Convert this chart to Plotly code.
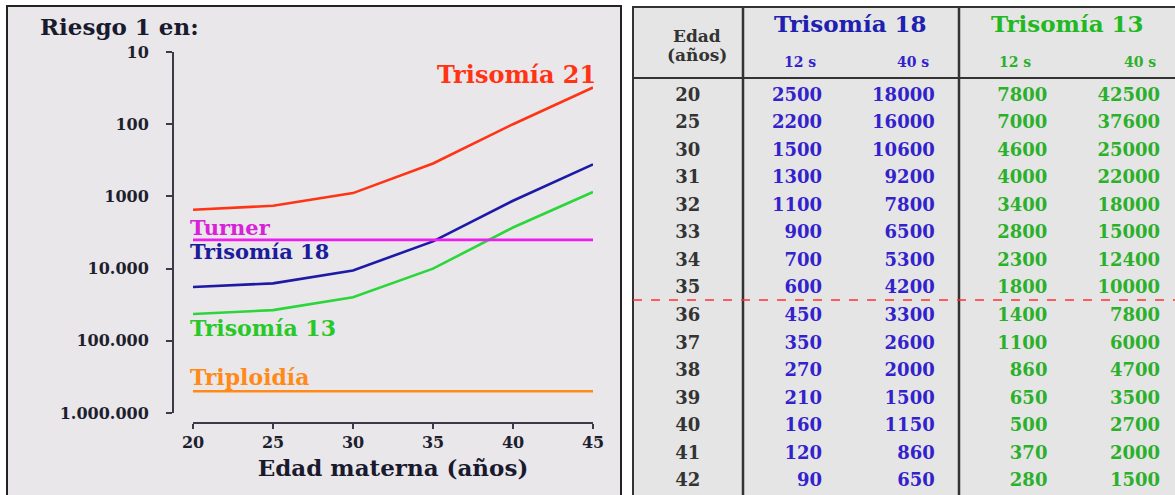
import plotly.graph_objects as go

W, H = 1175, 495

# --- gráfico: riesgo "1 en N" por edad materna ---
EDAD_GRAF = [20, 25, 30, 35, 40, 45]
T21 = [1530, 1350, 900, 350, 100, 31]
T18 = [18000, 16000, 10600, 4200, 1150, 360]
T13 = [42500, 37600, 25000, 10000, 2700, 870]
EDAD_RANGO = [20, 45]
TURNER = [4000, 4000]
TRIPLOIDIA = [500000, 500000]

Y_TICKS = [10, 100, 1000, 10000, 100000, 1000000]
Y_TICK_TEXT = ["10", "100", "1000", "10.000", "100.000", "1.000.000"]
X_TICKS = [20, 25, 30, 35, 40, 45]

# --- tabla ---
EDAD_TABLA = [20, 25, 30, 31, 32, 33, 34, 35, 36, 37, 38, 39, 40, 41, 42]
T18_12S = [2500, 2200, 1500, 1300, 1100, 900, 700, 600, 450, 350, 270, 210, 160, 120, 90]
T18_40S = [18000, 16000, 10600, 9200, 7800, 6500, 5300, 4200, 3300, 2600, 2000, 1500, 1150, 860, 650]
T13_12S = [7800, 7000, 4600, 4000, 3400, 2800, 2300, 1800, 1400, 1100, 860, 650, 500, 370, 280]
T13_40S = [42500, 37600, 25000, 22000, 18000, 15000, 12400, 10000, 7800, 6000, 4700, 3500, 2700, 2000, 1500]

FONT = "DejaVu Serif"
RED = "#ff3414"
BLUE = "#1c1aa6"
GREEN = "#2bd63a"
MAGENTA = "#ee1cee"
ORANGE = "#ff8a18"
TBLUE = "#3322cc"
TGREEN = "#2cb02c"


def px(x):
    return x / W


def py(y):
    return 1 - y / H


fig = go.Figure()

# líneas del gráfico
for ys, color, xs in [
    (T21, RED, EDAD_GRAF),
    (T18, BLUE, EDAD_GRAF),
    (T13, GREEN, EDAD_GRAF),
    (TURNER, MAGENTA, EDAD_RANGO),
    (TRIPLOIDIA, ORANGE, EDAD_RANGO),
]:
    fig.add_trace(go.Scatter(x=xs, y=ys, mode="lines",
                             line=dict(color=color, width=2.6),
                             xaxis="x", yaxis="y", hoverinfo="skip"))

# columnas de la tabla (posición de columna = índice en el eje x2)
rows = list(range(len(EDAD_TABLA)))
columns = [
    (EDAD_TABLA, "#333333", -0.19, "middle center"),
    (T18_12S, TBLUE, 1, "middle left"),
    (T18_40S, TBLUE, 2, "middle left"),
    (T13_12S, TGREEN, 3, "middle left"),
    (T13_40S, TGREEN, 4, "middle left"),
]
for vals, color, col, pos in columns:
    fig.add_trace(go.Scatter(
        x=[col] * len(vals), y=rows, mode="text",
        text=[f"<b>{v}</b>" for v in vals],
        textposition=pos, cliponaxis=False,
        textfont=dict(family=FONT, size=18, color=color),
        xaxis="x2", yaxis="y2", hoverinfo="skip"))

shapes = [
    # fondo panel izquierdo
    dict(type="rect", xref="paper", yref="paper", x0=px(7), x1=px(621), y0=py(500), y1=py(6),
         fillcolor="#e9e7ea", line=dict(color="#222222", width=2), layer="below"),
    # fondo tabla
    dict(type="rect", xref="paper", yref="paper", x0=px(633), x1=px(1178), y0=py(500), y1=py(7),
         fillcolor="#e5e5e5", line=dict(color="#333333", width=2), layer="below"),
    # línea bajo cabecera
    dict(type="line", xref="paper", yref="paper", x0=px(633), x1=px(1175), y0=py(78), y1=py(78),
         line=dict(color="#333333", width=2)),
    # separadores verticales
    dict(type="line", xref="paper", yref="paper", x0=px(743), x1=px(743), y0=py(7), y1=py(495),
         line=dict(color="#333333", width=2.5)),
    dict(type="line", xref="paper", yref="paper", x0=px(959), x1=px(959), y0=py(7), y1=py(495),
         line=dict(color="#333333", width=2.5)),
    # línea roja discontinua (35 / 36 años)
    dict(type="line", xref="paper", yref="paper", x0=px(633), x1=px(1175), y0=py(300), y1=py(300),
         line=dict(color="#ff3030", width=1.5, dash="dash")),
]


def ann(text, x, y, color, size, xanchor="left"):
    return dict(text=f"<b>{text}</b>", x=px(x), y=py(y), xref="paper", yref="paper",
                xanchor=xanchor, yanchor="middle", showarrow=False,
                font=dict(family=FONT, size=size, color=color))


annotations = [
    ann("Riesgo 1 en:", 38, 26, "#1a1a2e", 23),
    ann("Trisomía 21", 598, 75, RED, 24, "right"),
    ann("Turner", 188, 227, "#d822d8", 21),
    ann("Trisomía 18", 188, 251, "#1c1c9c", 21),
    ann("Trisomía 13", 188, 328, "#28c828", 22),
    ann("Triploidía", 188, 377, ORANGE, 22),
    ann("Edad", 697, 36, "#333333", 17, "center"),
    ann("(años)", 697, 55, "#333333", 17, "center"),
    ann("Trisomía 18", 850, 24, "#2020b0", 23, "center"),
    ann("Trisomía 13", 1067, 24, "#22b822", 23, "center"),
    ann("12 s", 800, 62, TBLUE, 14, "center"),
    ann("40 s", 913, 62, TBLUE, 14, "center"),
    ann("12 s", 1015, 62, TGREEN, 14, "center"),
    ann("40 s", 1140, 62, TGREEN, 14, "center"),
]

axis_font = dict(family=FONT, size=16, color="#1e1e2e", weight="bold")

fig.update_layout(
    width=W, height=H,
    margin=dict(l=0, r=0, t=0, b=0, autoexpand=False),
    paper_bgcolor="white",
    plot_bgcolor="rgba(0,0,0,0)",
    showlegend=False,
    shapes=shapes,
    annotations=annotations,
    xaxis=dict(domain=[px(193), px(593)], range=[20, 45], anchor="free", position=py(423),
               tickvals=X_TICKS, showline=True, linecolor="#3a3a4a", linewidth=2,
               ticks="outside", ticklen=5, tickwidth=2, tickcolor="#3a3a4a",
               tickfont=axis_font, showgrid=False, zeroline=False, automargin=False,
               title=dict(text="<b>Edad materna (años)</b>", standoff=8,
                          font=dict(family=FONT, size=23, color="#1a1a2e"))),
    yaxis=dict(domain=[py(413), py(52)], type="log", range=[6, 1], anchor="free",
               position=px(173), tickvals=Y_TICKS, ticktext=Y_TICK_TEXT,
               showline=True, linecolor="#3a3a4a", linewidth=2,
               ticks="outside", ticklen=6, tickwidth=2, tickcolor="#3a3a4a",
               ticklabelstandoff=14, tickfont=axis_font, showgrid=False, zeroline=False,
               automargin=False),
    xaxis2=dict(domain=[px(633), 1], range=[-0.677, 4.132], anchor="y2", visible=False),
    yaxis2=dict(domain=[0, 1], range=[14.472, -3.482], anchor="x2", visible=False),
)

# la página por defecto añade 8px de margen al body
fig.write_html("out.html", config={"displayModeBar": False},
               post_script="document.body.style.margin='0';")
